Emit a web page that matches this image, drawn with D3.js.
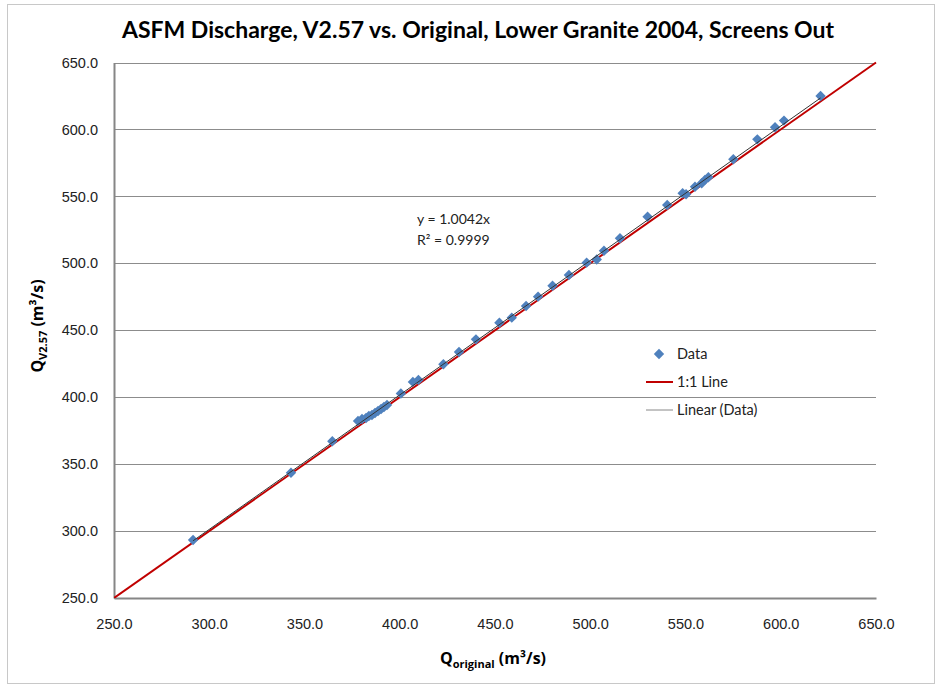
<!DOCTYPE html>
<html><head><meta charset="utf-8">
<script src="https://cdnjs.cloudflare.com/ajax/libs/d3/7.8.5/d3.min.js"></script>
<style>
body{margin:0;background:#fff;}
svg{display:block;font-family:Lato,"Open Sans",sans-serif;}
</style></head>
<body><svg id="c" width="937" height="685"></svg>
<script>
const title = "ASFM Discharge, V2.57 vs. Original, Lower Granite 2004, Screens Out";
const qOriginal = [291.5,342.9,364.6,378.1,380.2,382.3,383.8,385.4,387.0,388.6,390.2,391.7,393.3,400.6,406.9,409.8,422.9,431.1,440.0,452.3,458.8,466.3,472.6,480.2,488.8,498.1,503.4,507.2,515.6,530.1,540.4,548.5,550.3,555.0,558.5,560.2,562.0,575.1,587.7,597.0,601.7,620.9];
const qV257 =     [293.3,343.6,367.1,382.2,383.7,384.5,386.0,386.7,388.2,389.7,391.2,392.7,394.2,402.8,411.4,412.9,424.6,433.8,443.2,455.6,459.4,468.1,475.1,483.2,491.3,500.5,502.8,509.4,518.7,534.8,543.6,552.3,551.6,557.2,559.8,562.3,564.3,577.7,592.6,601.6,606.6,625.0];
const ticks = [250,300,350,400,450,500,550,600,650];
const slope = 1.0042;
const r2 = "0.9999";
const legendItems = ["Data","1:1 Line","Linear (Data)"];

const svg = d3.select("#c");
const L=114, R=876, T=62.5, B=598;
const x = d3.scaleLinear().domain([250,650]).range([L,R]);
const y = d3.scaleLinear().domain([250,650]).range([B,T]);

svg.append("rect").attr("x",7.5).attr("y",4.5).attr("width",927).attr("height",679)
  .attr("fill","#fff").attr("stroke","#c8c8c8").attr("stroke-width",1);

svg.append("g").selectAll("line").data(ticks).join("line")
  .attr("x1",L).attr("x2",R)
  .attr("y1",d=>Math.round(y(d))+0.5).attr("y2",d=>Math.round(y(d))+0.5)
  .attr("stroke","#8c8c8c").attr("stroke-width",1);

const ya = svg.append("g").attr("transform",`translate(${L},0)`)
  .call(d3.axisLeft(y).tickValues(ticks).tickFormat(d3.format(".1f")).tickSize(0).tickPadding(16));
ya.select(".domain").attr("stroke","#868686").attr("stroke-width",2);
ya.selectAll("text").attr("font-size",14.5).attr("fill","#222");
const xa = svg.append("g").attr("transform",`translate(0,${B})`)
  .call(d3.axisBottom(x).tickValues(ticks).tickFormat(d3.format(".1f")).tickSize(0).tickPadding(21));
xa.select(".domain").attr("stroke","#868686").attr("stroke-width",2);
xa.selectAll("text").attr("font-size",14.5).attr("fill","#222");

svg.append("clipPath").attr("id","pc").append("rect").attr("x",L).attr("y",T-2).attr("width",R-L+2).attr("height",B-T+2);

svg.append("line").attr("clip-path","url(#pc)")
  .attr("x1",x(250)).attr("y1",y(250)).attr("x2",x(650)).attr("y2",y(650))
  .attr("stroke","#c00000").attr("stroke-width",2);

svg.append("g").selectAll("path").data(qOriginal.map((d,i)=>[d,qV257[i]])).join("path")
  .attr("d",d3.symbol(d3.symbolSquare,54))
  .attr("transform",d=>`translate(${x(d[0])},${y(d[1])}) rotate(45)`)
  .attr("fill","#4f81bd");

const xmin=d3.min(qOriginal), xmax=d3.max(qOriginal);
svg.append("line")
  .attr("x1",x(xmin)).attr("y1",y(slope*xmin)).attr("x2",x(xmax)).attr("y2",y(slope*xmax))
  .attr("stroke","#333").attr("stroke-width",1);

const eq = svg.append("text").attr("font-size",14).attr("fill","#222");
eq.append("tspan").attr("x",417).attr("y",224).text(`y = ${slope}x`);
eq.append("tspan").attr("x",417).attr("y",245).text(`R² = ${r2}`);

svg.append("text").attr("x",478).attr("y",38).attr("text-anchor","middle")
  .attr("font-size",23).attr("font-weight","bold").attr("fill","#000").text(title);

const xt = svg.append("text").attr("x",493).attr("y",664).attr("text-anchor","middle")
  .attr("font-size",16).attr("font-weight","bold").attr("fill","#000").attr("font-family","'Open Sans',sans-serif");
xt.append("tspan").text("Q");
xt.append("tspan").attr("font-size",11).attr("dy",4).text("original");
xt.append("tspan").attr("dy",-4).text(" (m³/s)");

const yt = svg.append("text").attr("transform","translate(43,326) rotate(-90)").attr("text-anchor","middle")
  .attr("font-size",16).attr("font-weight","bold").attr("fill","#000").attr("font-family","'Open Sans',sans-serif");
yt.append("tspan").text("Q");
yt.append("tspan").attr("font-size",11).attr("dy",4).text("V2.57");
yt.append("tspan").attr("dy",-4).text(" (m³/s)");

const lg = svg.append("g");
const ly = [354,382,410];
lg.append("path").attr("d",d3.symbol(d3.symbolSquare,54)).attr("transform",`translate(659,${ly[0]}) rotate(45)`).attr("fill","#4f81bd");
lg.append("line").attr("x1",646).attr("x2",673).attr("y1",ly[1]).attr("y2",ly[1]).attr("stroke","#c00000").attr("stroke-width",2);
lg.append("line").attr("x1",646).attr("x2",673).attr("y1",ly[2]).attr("y2",ly[2]).attr("stroke","#888").attr("stroke-width",1);
lg.selectAll("text").data(legendItems).join("text")
  .attr("x",677).attr("y",(d,i)=>ly[i]+5).attr("font-size",14.5).attr("fill","#222").text(d=>d);
</script></body></html>
